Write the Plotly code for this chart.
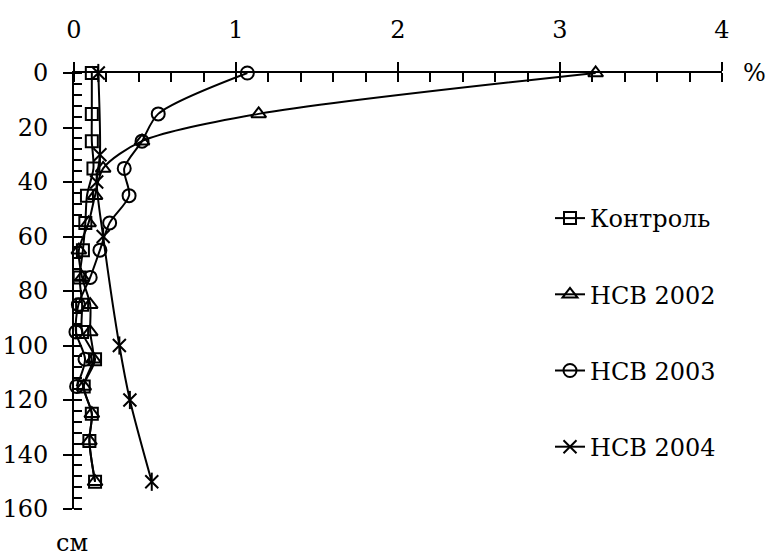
import plotly.graph_objects as go

depth = [0, 15, 25, 35, 45, 55, 65, 75, 85, 95, 105, 115, 125, 135, 150]
kontrol = [0.11, 0.11, 0.11, 0.12, 0.08, 0.07, 0.055, 0.035, 0.05, 0.05, 0.13, 0.06, 0.11, 0.095, 0.13]
nsv2002 = [3.22, 1.14, 0.42, 0.18, 0.13, 0.09, 0.03, 0.05, 0.10, 0.10, 0.12, 0.06, 0.11, 0.095, 0.13]
depth2003 = [0, 15, 25, 35, 45, 55, 65, 75, 85, 95, 105, 115]
nsv2003 = [1.07, 0.52, 0.42, 0.31, 0.34, 0.22, 0.16, 0.10, 0.027, 0.012, 0.068, 0.016]
depth2004 = [0, 30, 40, 60, 100, 120, 150]
nsv2004 = [0.15, 0.16, 0.14, 0.18, 0.28, 0.345, 0.48]

names = ["Контроль", "НСВ 2002", "НСВ 2003", "НСВ 2004"]

FONT = "DejaVu Serif"
FS = 24
W, H = 773, 558
L, R, T, B = 74, 51, 73, 49
PW, PH = W - L - R, H - T - B

fig = go.Figure()
line = dict(color="black", width=2, shape="spline", smoothing=0.8)

fig.add_trace(go.Scatter(x=kontrol, y=depth, name=names[0], mode="lines+markers",
                         line=line, cliponaxis=False, legendgroup="a",
                         marker=dict(symbol="square-open", size=12, color="black", line=dict(width=2))))
fig.add_trace(go.Scatter(x=nsv2002, y=depth, name=names[1], mode="lines+markers",
                         line=line, cliponaxis=False, legendgroup="b",
                         marker=dict(symbol="triangle-up-open", size=13, color="black", line=dict(width=2))))
fig.add_trace(go.Scatter(x=nsv2003, y=depth2003, name=names[2], mode="lines+markers",
                         line=line, cliponaxis=False, legendgroup="c",
                         marker=dict(symbol="circle-open", size=13, color="black", line=dict(width=2))))
fig.add_trace(go.Scatter(x=nsv2004, y=depth2004, name=names[3], mode="lines+markers",
                         line=line, cliponaxis=False, legendgroup="d",
                         marker=dict(symbol="x-thin-open", size=13, color="black", line=dict(width=2, color="black"))))
fig.add_trace(go.Scatter(x=nsv2004, y=depth2004, mode="markers", showlegend=False,
                         cliponaxis=False, legendgroup="d",
                         marker=dict(symbol="line-ns-open", size=13, color="black", line=dict(width=2, color="black"))))

common = dict(showline=True, linecolor="black", linewidth=2, showgrid=False, zeroline=False,
              tickcolor="black", tickwidth=2, ticklen=9, automargin=False,
              tickfont=dict(family=FONT, size=FS, color="black"))

fig.update_layout(
    template="none",
    width=W, height=H,
    margin=dict(l=L, r=R, t=T, b=B, pad=0),
    paper_bgcolor="white", plot_bgcolor="white",
    font=dict(family=FONT, size=FS, color="black"),
    xaxis=dict(range=[0, 4], side="top", dtick=1, ticks="outside",
               minor=dict(ticks="inside", dtick=0.2, ticklen=9, tickwidth=2, tickcolor="black"),
               ticklabelstandoff=14, **common),
    yaxis=dict(range=[160, 0], dtick=20, ticks="outside",
               minor=dict(ticks="inside", dtick=4, ticklen=8, tickwidth=2, tickcolor="black"),
               ticklabelstandoff=10, **common),
    xaxis2=dict(range=[0, 4], overlaying="x", side="top", dtick=1, ticks="inside",
                showticklabels=False, showline=False, showgrid=False, zeroline=False, automargin=False,
                tickcolor="black", tickwidth=2, ticklen=9, matches="x"),
    yaxis2=dict(range=[160, 0], overlaying="y", side="left", dtick=20, ticks="inside",
                showticklabels=False, showline=False, showgrid=False, zeroline=False, automargin=False,
                tickcolor="black", tickwidth=2, ticklen=8, matches="y"),
    legend=dict(x=(550 - L) / PW, y=(509 - 196) / PH, xanchor="left", yanchor="top",
                bgcolor="rgba(0,0,0,0)", tracegroupgap=42, traceorder="grouped",
                font=dict(family=FONT, size=FS, color="black")),
    showlegend=True,
)

fig.add_trace(go.Scatter(x=[None], y=[None], xaxis="x2", yaxis="y2", showlegend=False, hoverinfo="skip"))

fig.add_annotation(text="%", x=(755 - L) / PW, y=1.0, xref="paper", yref="paper",
                   showarrow=False, font=dict(family=FONT, size=FS, color="black"),
                   xanchor="center", yanchor="middle")
fig.add_annotation(text="см", x=(72 - L) / PW, y=-(543 - 509) / PH, xref="paper", yref="paper",
                   showarrow=False, font=dict(family=FONT, size=FS, color="black"),
                   xanchor="center", yanchor="middle")

fig.write_html("out.html")
